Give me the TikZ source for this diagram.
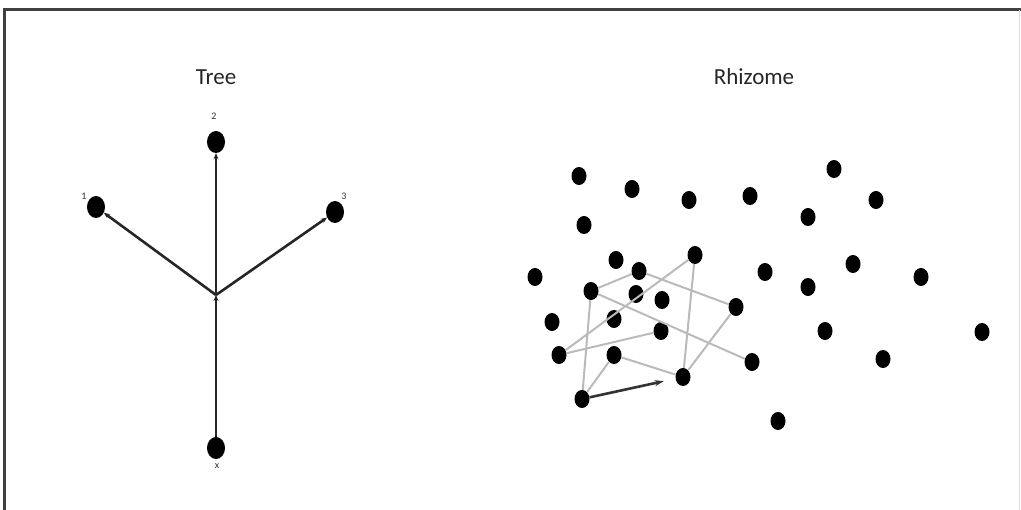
\documentclass[tikz,border=0pt]{standalone}
\usepackage{fontspec}
\setmainfont{Carlito}
\usetikzlibrary{arrows.meta,shapes.geometric}

\tikzset{
  frame/.style={draw=black!75, line width=3pt},
  title/.style={font=\fontsize{23}{26}\selectfont, text=black!85, inner sep=0pt},
  tiny/.style={font=\fontsize{10}{11}\selectfont, text=black!80, inner sep=0pt},
  treedot/.style={ellipse, fill=black, inner sep=0pt, minimum width=18pt, minimum height=22pt},
  rdot/.style={ellipse, fill=black, inner sep=0pt, minimum width=15pt, minimum height=18pt},
  branch/.style={draw=black!85, line width=2.6pt, -{Stealth[length=6pt,width=5pt]}},
  link/.style={draw=black!27, line width=2pt},
  lead/.style={draw=black!80, line width=2.6pt, -{Stealth[length=9pt,width=6pt]}, shorten >=12pt}
}

\begin{document}
\begin{tikzpicture}[x=1pt,y=-1pt]
\useasboundingbox (0,0) rectangle (1021,510);

% frame
\draw[frame] (4,515) -- (4,10) -- (1030,10);
\draw[draw=black!12, line width=1pt] (1019,10) -- (1019,515);

% titles
\node[title] (ttree) at (216,77) {Tree};
\node[title] (trhiz) at (754,77) {Rhizome};

% ---- tree ----
\node[treedot] (t2) at (216,142) {};
\node[treedot] (t1) at (96,207) {};
\node[treedot] (t3) at (335,212) {};
\node[treedot] (tx) at (216,448) {};
\coordinate (br) at (216,295);

\node[tiny] (l2) at (214,116) {2};
\node[tiny] (l1) at (84,196) {1};
\node[tiny] (l3) at (344,196) {3};
\node[tiny] (lx) at (217,466) {x};

\draw[branch] (tx) -- (br);
\draw[branch] (br) -- (t2);
\draw[branch] (br) -- (t1);
\draw[branch] (br) -- (t3);

% ---- rhizome ----
\foreach \n/\x/\y in {
  a/579/176, b/632/189, c/689/200, d/750/196, e/834/169, f/876/200,
  g/808/217, h/584/225, i/535/277, j/616/260, k/639/271, l/695/255,
  m/765/272, n/853/264, o/921/277, p/591/291, q/636/294, r/662/300,
  s/736/307, t/808/287, u/552/322, v/614/319, w/661/331, y/825/331,
  z/982/332, A/559/355, B/614/355, C/752/362, D/883/359, E/683/377,
  F/582/399, G/778/421}
  \node[rdot] (r\n) at (\x,\y) {};

\draw[link] (rp) -- (rk);
\draw[link] (rk) -- (rs);
\draw[link] (rp) -- (rC);
\draw[link] (rp) -- (rF);
\draw[link] (rA) -- (rl);
\draw[link] (rA) -- (rw);
\draw[link] (rl) -- (rE);
\draw[link] (rs) -- (rE);
\draw[link] (rB) -- (rE);
\draw[link] (rF) -- (rB);
\draw[lead] (rF) -- (rE);
\end{tikzpicture}
\end{document}
